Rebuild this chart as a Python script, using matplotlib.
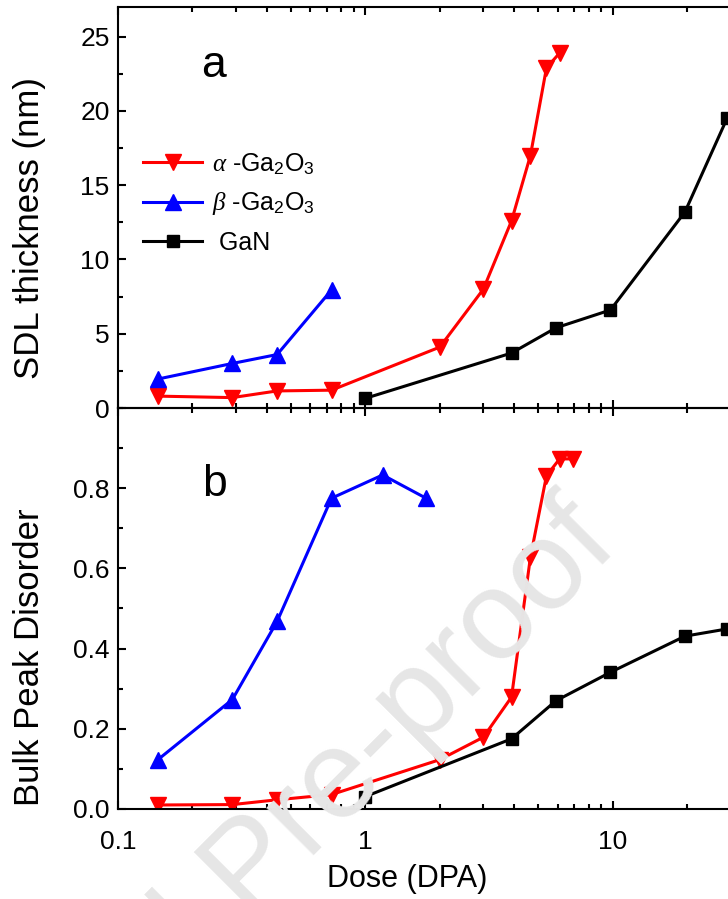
import matplotlib
matplotlib.use('Agg')
import matplotlib.pyplot as plt
from matplotlib.ticker import MultipleLocator, LogLocator, NullFormatter, FixedLocator, FixedFormatter

plt.rcParams['font.family'] = ['Liberation Sans', 'DejaVu Sans']
plt.rcParams['mathtext.fontset'] = 'custom'
plt.rcParams['mathtext.rm'] = 'Liberation Sans'
plt.rcParams['mathtext.it'] = 'Liberation Serif:italic'

# panel a: SDL thickness (nm)
dose_alpha_a = [0.145, 0.29, 0.44, 0.73, 2.0, 3.0, 3.9, 4.65, 5.4, 6.1]
sdl_alpha = [0.8, 0.7, 1.15, 1.2, 4.1, 8.0, 12.6, 17.0, 22.9, 23.9]
dose_beta_a = [0.145, 0.29, 0.44, 0.73]
sdl_beta = [1.95, 3.0, 3.6, 7.95]
dose_gan = [1.0, 3.9, 5.9, 9.8, 19.6, 29.0]
sdl_gan = [0.65, 3.7, 5.4, 6.6, 13.2, 19.5]

# panel b: bulk peak disorder
dose_alpha_b = [0.145, 0.29, 0.44, 0.73, 2.0, 3.0, 3.9, 4.65, 5.4, 6.1, 6.9]
disorder_alpha = [0.01, 0.011, 0.023, 0.036, 0.123, 0.179, 0.279, 0.628, 0.831, 0.873, 0.873]
dose_beta_b = [0.145, 0.29, 0.44, 0.73, 1.175, 1.76]
disorder_beta = [0.123, 0.273, 0.468, 0.775, 0.833, 0.775]
disorder_gan = [0.031, 0.175, 0.27, 0.341, 0.431, 0.449]

labels = [r'$\alpha$ -Ga$_2$O$_3$', r'$\beta$ -Ga$_2$O$_3$', ' GaN']
x_ticks = [0.1, 1, 10]
x_ticklabels = ['0.1', '1', '10']
yb_ticks = [0.0, 0.2, 0.4, 0.6, 0.8]

W, H = 728, 899
fig = plt.figure(figsize=(W / 100, H / 100), dpi=100)

left = 118 / W
width = (860 - 118) / W  # axes runs past the right edge (cropped like the original)
ax_a = fig.add_axes([left, (H - 408) / H, width, 401 / H])
ax_b = fig.add_axes([left, (H - 809) / H, width, 401 / H], sharex=ax_a)

# watermark
fig.text(0.379, 0.006, 'Journal Pre-proof', fontsize=91, color='#e6e6e6',
         rotation=45, ha='center', va='baseline', rotation_mode='anchor', zorder=0)
ax_a.set_facecolor('none')
ax_b.set_facecolor('none')

lw = 2.2
ax_a.plot(dose_alpha_a, sdl_alpha, '-v', color='#ff0000', lw=lw, ms=11, label=labels[0])
ax_a.plot(dose_beta_a, sdl_beta, '-^', color='#0000ff', lw=lw, ms=11, label=labels[1])
ax_a.plot(dose_gan, sdl_gan, '-s', color='black', lw=lw, ms=8.5, label=labels[2])

ax_b.plot(dose_alpha_b, disorder_alpha, '-v', color='#ff0000', lw=lw, ms=11)
ax_b.plot(dose_beta_b, disorder_beta, '-^', color='#0000ff', lw=lw, ms=11)
ax_b.plot(dose_gan, disorder_gan, '-s', color='black', lw=lw, ms=8.5)

ax_a.set_xscale('log')
ax_a.set_xlim(0.1, 100)
ax_a.set_ylim(0, 27)
ax_b.set_ylim(0, 1.0)

ax_a.yaxis.set_major_locator(MultipleLocator(5))
ax_a.yaxis.set_minor_locator(MultipleLocator(2.5))
ax_b.yaxis.set_major_locator(FixedLocator(yb_ticks))
ax_b.yaxis.set_minor_locator(MultipleLocator(0.1))
ax_b.yaxis.set_major_formatter(matplotlib.ticker.FormatStrFormatter('%.1f'))

for ax in (ax_a, ax_b):
    ax.xaxis.set_major_locator(FixedLocator(x_ticks))
    ax.xaxis.set_major_formatter(FixedFormatter(x_ticklabels))
    ax.xaxis.set_minor_locator(LogLocator(base=10, subs=range(2, 10)))
    ax.xaxis.set_minor_formatter(NullFormatter())
    ax.tick_params(which='both', direction='in', top=True, right=True, width=1.5)
    ax.tick_params(which='major', length=6, labelsize=19, pad=6)
    ax.tick_params(which='minor', length=3.5)
    for s in ax.spines.values():
        s.set_linewidth(1.5)
ax_a.tick_params(labelbottom=False)
ax_b.tick_params(axis='x', pad=15)

ax_a.text(0.129, 0.853, 'a', fontsize=32, transform=ax_a.transAxes, ha='center', va='center')
ax_b.text(0.13, 0.81, 'b', fontsize=32, transform=ax_b.transAxes, ha='center', va='center')

fig.text(30 / W, 1 - 228 / H, 'SDL thickness (nm)', fontsize=25, rotation=90, ha='center', va='center')
fig.text(30 / W, 1 - 657 / H, 'Bulk Peak Disorder', fontsize=25, rotation=90, ha='center', va='center')
fig.text(407 / W, 1 - 879 / H, 'Dose (DPA)', fontsize=22, ha='center', va='center')

ax_a.legend(loc='center left', bbox_to_anchor=(0.034, 0.511), frameon=False, fontsize=18,
            handlelength=2.35, handletextpad=0.4, labelspacing=0.55, borderpad=0, borderaxespad=0)

fig.savefig('out.png', dpi=100)
